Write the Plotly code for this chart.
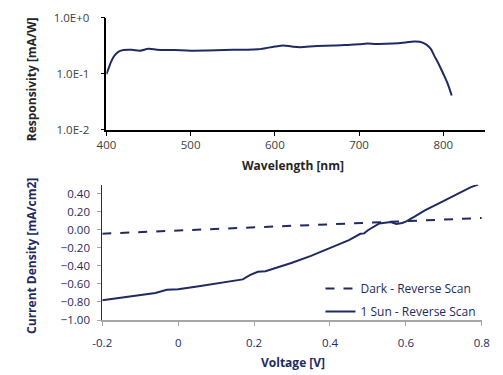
import plotly.graph_objects as go

# ---- Top chart: responsivity ----
wavelength = [400, 403, 406, 410, 415, 420, 430, 440, 450, 460, 470, 480, 500, 520, 540,
              560, 580, 600, 610, 620, 630, 650, 670, 690, 700, 710, 720, 740, 755,
              765, 772, 780, 785, 790, 795, 800, 805, 810]
responsivity = [0.098, 0.13, 0.17, 0.215, 0.25, 0.265, 0.268, 0.258, 0.278, 0.268, 0.264,
                0.264, 0.258, 0.26, 0.265, 0.268, 0.272, 0.305, 0.318, 0.305, 0.298,
                0.312, 0.318, 0.33, 0.335, 0.345, 0.34, 0.345, 0.36, 0.375, 0.37, 0.33,
                0.28, 0.2, 0.145, 0.1, 0.068, 0.041]
resp_tickvals = [0.01, 0.1, 1.0]
resp_ticktext = ["1.0E-2", "1.0E-1", "1.0E+0"]

# ---- Bottom chart: J-V ----
v_dark = [-0.2, 0.0, 0.2, 0.4, 0.6, 0.8]
j_dark = [-0.043, -0.008, 0.02, 0.055, 0.092, 0.13]

v_sun = [-0.2, -0.15, -0.1, -0.06, -0.03, 0.0, 0.05, 0.1, 0.15, 0.17, 0.19, 0.21, 0.23,
         0.26, 0.3, 0.35, 0.4, 0.45, 0.48, 0.49, 0.5, 0.53, 0.56, 0.575, 0.59, 0.6,
         0.625, 0.65, 0.7, 0.75, 0.77, 0.79]
j_sun = [-0.78, -0.75, -0.72, -0.7, -0.665, -0.66, -0.63, -0.595, -0.56, -0.55, -0.5,
         -0.465, -0.46, -0.42, -0.365, -0.29, -0.205, -0.115, -0.045, -0.04, -0.005,
         0.07, 0.085, 0.065, 0.075, 0.09, 0.15, 0.215, 0.32, 0.43, 0.47, 0.5]

NAVY = "#1F2A63"
FONT = "Open Sans"

fig = go.Figure()
fig.add_trace(go.Scatter(x=wavelength, y=responsivity, mode="lines", line=dict(color=NAVY, width=2, shape="spline"),
                         xaxis="x", yaxis="y", showlegend=False))
fig.add_trace(go.Scatter(x=v_dark, y=j_dark, mode="lines", name="Dark - Reverse Scan", legendgroup="a",
                         line=dict(color=NAVY, width=2, dash="dash"), xaxis="x2", yaxis="y2"))
fig.add_trace(go.Scatter(x=v_sun, y=j_sun, mode="lines", name="1 Sun - Reverse Scan", legendgroup="b",
                         line=dict(color=NAVY, width=2), xaxis="x2", yaxis="y2"))

W, H = 503, 375
def px(x): return x / W
def py(y): return 1 - y / H

fig.update_layout(
    width=W, height=H, margin=dict(l=0, r=0, t=0, b=0),
    paper_bgcolor="white", plot_bgcolor="white",
    font=dict(family=FONT, size=11, color="#595959"),
    xaxis=dict(domain=[px(100), px(493)], range=[400, 850], tickvals=[400, 500, 600, 700, 800],
               showline=True, linecolor="black", linewidth=1.5, ticks="outside", ticklen=4,
               tickcolor="black", showgrid=False, zeroline=False, anchor="y",
               tickfont=dict(size=11.5, color="#404040")),
    yaxis=dict(domain=[py(127), py(10)], type="log", range=[-2, 0], tickvals=resp_tickvals,
               ticktext=resp_ticktext, showline=True, linecolor="black", linewidth=1.5,
               ticks="outside", ticklen=4, tickcolor="black", showgrid=False, zeroline=False,
               anchor="x", ticklabelstandoff=9, tickfont=dict(size=11.5, color="#404040")),
    xaxis2=dict(domain=[px(95.7), px(489.3)], range=[-0.2, 0.8], tickvals=[-0.2, 0, 0.2, 0.4, 0.6, 0.8],
                ticktext=["-0.2", "0", "0.2", "0.4", "0.6", "0.8"],
                showline=True, linecolor="#A6A6A6", linewidth=1.5, ticks="outside", ticklen=4,
                tickcolor="#A6A6A6", showgrid=False, zeroline=False, anchor="y2",
                ticklabelstandoff=7, tickfont=dict(size=11.5, color=NAVY)),
    yaxis2=dict(domain=[py(325), py(184)], range=[-1.0, 0.5],
                tickvals=[-1.0, -0.8, -0.6, -0.4, -0.2, 0.0, 0.2, 0.4], tickformat=".2f",
                showline=True, linecolor=NAVY, linewidth=1, ticks="outside", ticklen=4,
                tickcolor="#A6A6A6", showgrid=False, zeroline=False, anchor="x2",
                ticklabelstandoff=5, tickfont=dict(size=11.5, color=NAVY)),
    legend=dict(x=px(322), y=py(277), xanchor="left", yanchor="top", bgcolor="rgba(0,0,0,0)",
                font=dict(size=12, color=NAVY), tracegroupgap=4, itemwidth=30),
)

fig.add_annotation(text="<b>Responsivity [mA/W]</b>", x=px(22), y=py(74), xref="paper", yref="paper",
                   xanchor="center", yanchor="middle",
                   textangle=-90, showarrow=False, font=dict(size=12, color="#262626"))
fig.add_annotation(text="<b>Wavelength [nm]</b>", x=px(293), y=py(164), xref="paper", yref="paper",
                   xanchor="center", yanchor="middle",
                   showarrow=False, font=dict(size=12, color="#262626"))
fig.add_annotation(text="<b>Current Density [mA/cm2]</b>", x=px(22), y=py(258), xref="paper", yref="paper",
                   xanchor="center", yanchor="middle",
                   textangle=-90, showarrow=False, font=dict(size=12, color=NAVY))
fig.add_annotation(text="<b>Voltage [V]</b>", x=px(293), y=py(369), xref="paper", yref="paper",
                   xanchor="center", yanchor="middle",
                   showarrow=False, font=dict(size=12, color=NAVY))

fig.write_html("out.html")
